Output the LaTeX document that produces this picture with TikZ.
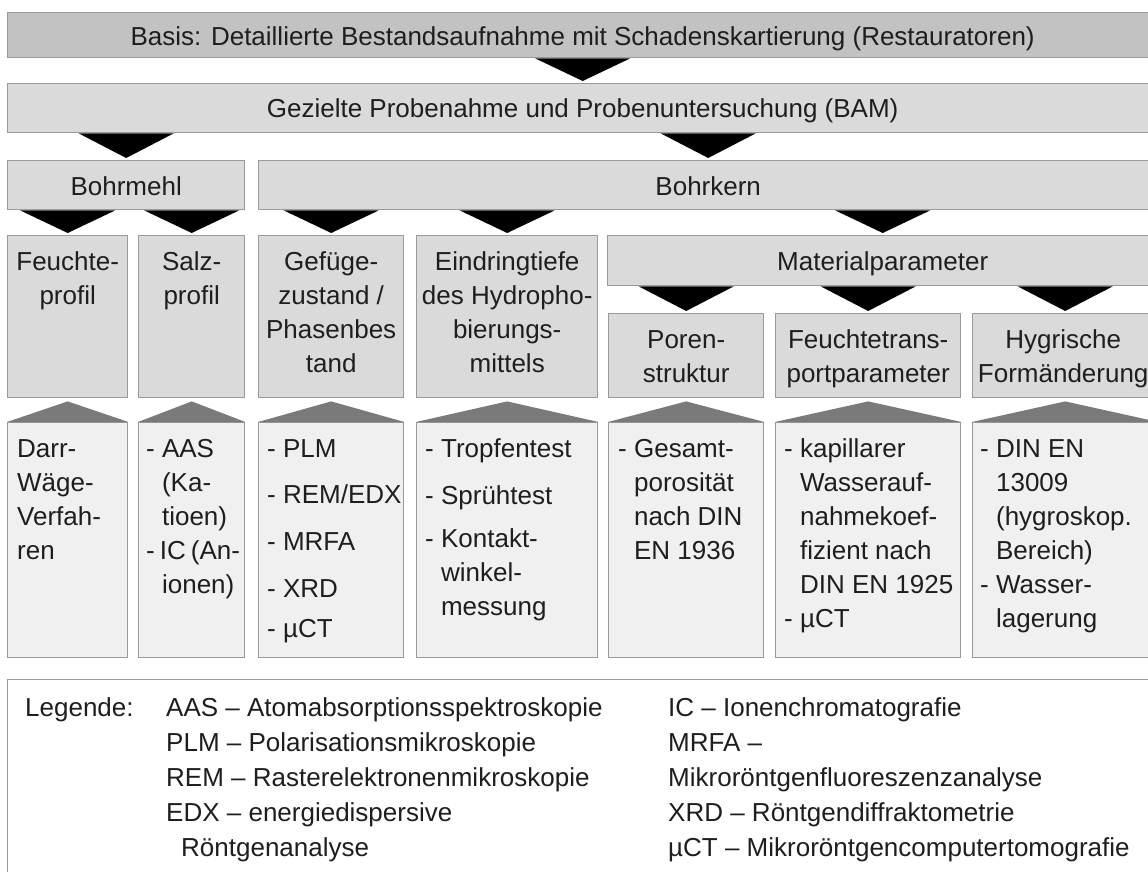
\documentclass[tikz,border=0pt]{standalone}
\usepackage{fontspec}
\setmainfont{Liberation Sans}
\usetikzlibrary{calc}
\definecolor{bdr}{HTML}{9A9A9A}
\definecolor{fillA}{HTML}{C2C2C2}
\definecolor{fillB}{HTML}{DADADA}
\definecolor{fillC}{HTML}{F0F0F0}
\definecolor{tri}{HTML}{7A7A7A}
\definecolor{txt}{HTML}{1E1E1E}
\newcommand\hgind{\hphantom{- }}
\newcommand\dtri[2]{\fill[black] ($(#2.north)+(0,-2)$) -- ($(#2.north |- #1.south)+(-47.5,0)$) -- ($(#2.north |- #1.south)+(47.5,0)$) -- cycle;}
\newcommand\utri[2]{\fill[tri] ($(#1.south)+(0,3)$) -- (#2.north west) -- (#2.north east) -- cycle;}
\begin{document}
\begin{tikzpicture}[x=1pt,y=-1pt,
  box/.style={draw=bdr, line width=1.4pt, inner sep=0pt, anchor=north west},
  lvA/.style={box, fill=fillA},
  lvB/.style={box, fill=fillB},
  lvC/.style={box, fill=fillC},
  legbox/.style={box, fill=white},
  lbl/.style={inner sep=0pt, text=txt, font=\fontsize{26}{34}\selectfont},
  ctxt/.style={lbl, align=center, anchor=north},
  ltxt/.style={lbl, align=left, anchor=north west},
  legtxt/.style={inner sep=0pt, text=txt, font=\fontsize{26}{35}\selectfont, align=left, anchor=north west}
]
\useasboundingbox (0,0) rectangle (1148,872);
\clip (0,0) rectangle (1148,872);
\fill[white] (0,0) rectangle (1148,872);

% level boxes
\node[lvA, minimum width=1150pt, minimum height=45pt] (basis) at (7,12) {};
\node[lvB, minimum width=1150pt, minimum height=49pt] (gez) at (7,83) {};
\node[lvB, minimum width=237pt, minimum height=49pt] (bmehl) at (7,160) {};
\node[lvB, minimum width=899pt, minimum height=49pt] (bkern) at (258,160) {};
\node[lvB, minimum width=120pt, minimum height=162pt] (feu) at (7,235) {};
\node[lvB, minimum width=106pt, minimum height=162pt] (salz) at (138,235) {};
\node[lvB, minimum width=145pt, minimum height=162pt] (gef) at (258,235) {};
\node[lvB, minimum width=181pt, minimum height=162pt] (ein) at (416,235) {};
\node[lvB, minimum width=550pt, minimum height=50pt] (mat) at (607,235) {};
\node[lvB, minimum width=155pt, minimum height=84pt] (por) at (608,313) {};
\node[lvB, minimum width=185pt, minimum height=84pt] (ftr) at (775,313) {};
\node[lvB, minimum width=185pt, minimum height=84pt] (hyg) at (972,313) {};

% lower boxes
\node[lvC, minimum width=120pt, minimum height=235pt] (darr) at (7,422) {};
\node[lvC, minimum width=106pt, minimum height=235pt] (aas) at (138,422) {};
\node[lvC, minimum width=145pt, minimum height=235pt] (plm) at (258,422) {};
\node[lvC, minimum width=181pt, minimum height=235pt] (trop) at (416,422) {};
\node[lvC, minimum width=155pt, minimum height=235pt] (ges) at (608,422) {};
\node[lvC, minimum width=185pt, minimum height=235pt] (kap) at (775,422) {};
\node[lvC, minimum width=185pt, minimum height=235pt] (din) at (972,422) {};

% legend box
\node[legbox, minimum width=1150pt, minimum height=250pt] (leg) at (7,679) {};

% down triangles
\dtri{basis}{gez}
\dtri{gez}{bmehl}
\dtri{gez}{bkern}
\dtri{bmehl}{feu}
\dtri{bmehl}{salz}
\dtri{bkern}{gef}
\dtri{bkern}{ein}
\dtri{bkern}{mat}
\dtri{mat}{por}
\dtri{mat}{ftr}
\dtri{mat}{hyg}

% up triangles
\utri{feu}{darr}
\utri{salz}{aas}
\utri{gef}{plm}
\utri{ein}{trop}
\utri{por}{ges}
\utri{ftr}{kap}
\utri{hyg}{din}

% single-line labels
\node[lbl, anchor=base] (tbasis) at (basis.north |- 0,46) {Basis: Detaillierte Bestandsaufnahme mit Schadenskartierung (Restauratoren)};
\node[lbl, anchor=base] (tgez) at (gez.north |- 0,118) {Gezielte Probenahme und Probenuntersuchung (BAM)};
\node[lbl, anchor=base] (tbmehl) at (bmehl.north |- 0,195) {Bohrmehl};
\node[lbl, anchor=base] (tbkern) at (bkern.north |- 0,195) {Bohrkern};
\node[lbl, anchor=base] (tmat) at (mat.north |- 0,270) {Materialparameter};

% multi-line upper labels
\node[ctxt] (tfeu) at ($(feu.north)+(0,11.2)$) {\strut Feuchte-\\profil};
\node[ctxt] (tsalz) at ($(salz.north)+(0,11.2)$) {\strut Salz-\\profil};
\node[ctxt] (tgef) at ($(gef.north)+(0,11.2)$) {\strut Gefüge-\\zustand /\\Phasenbes\\tand};
\node[ctxt] (tein) at ($(ein.north)+(0,11.2)$) {\strut Eindringtiefe\\des Hydropho-\\bierungs-\\mittels};
\node[ctxt] (tpor) at ($(por.north)+(0,11.2)$) {\strut Poren-\\struktur};
\node[ctxt] (tftr) at ($(ftr.north)+(0,11.2)$) {\strut Feuchtetrans-\\portparameter};
\node[ctxt] (thyg) at ($(hyg.north)+(-2,11.2)$) {\strut Hygrische\\Formänderung};

% lower labels
\node[ltxt] (tdarr) at ($(darr.north west)+(10,11.2)$) {\strut Darr-\\Wäge-\\Verfah-\\ren};
\node[ltxt] (taas) at ($(aas.north west)+(8,11.2)$) {\strut - AAS\\\hgind(Ka-\\\hgind tioen)\\-\hspace{5pt}IC\hspace{5pt}(An-\\\hgind ionen)};
\node[ltxt] (tplm) at ($(plm.north west)+(9,11.2)$) {\strut - PLM\\[12pt]- REM/EDX\\[13pt]- MRFA\\[13pt]- XRD\\[6pt]- µCT};
\node[ltxt] (ttrop) at ($(trop.north west)+(9,11.2)$) {\strut - Tropfentest\\[13pt]- Sprühtest\\[9pt]- Kontakt-\\\hgind winkel-\\\hgind messung};
\node[ltxt] (tges) at ($(ges.north west)+(10,11.2)$) {\strut - Gesamt-\\\hgind porosität\\\hgind nach DIN\\\hgind EN 1936};
\node[ltxt] (tkap) at ($(kap.north west)+(9,11.2)$) {\strut - kapillarer\\\hgind Wasserauf-\\\hgind nahmekoef-\\\hgind fizient nach\\\hgind DIN EN 1925\\- µCT};
\node[ltxt] (tdin) at ($(din.north west)+(8,11.2)$) {\strut - DIN EN\\\hgind 13009\\\hgind (hygroskop.\\\hgind Bereich)\\- Wasser-\\\hgind lagerung};

% legend
\node[legtxt] (tleg) at (25,691.5) {\strut Legende:};
\node[legtxt] (tleg2) at (166,691.5) {\strut AAS – Atomabsorptionsspektroskopie\\PLM – Polarisationsmikroskopie\\REM – Rasterelektronenmikroskopie\\EDX – energiedispersive\\\hspace*{15pt}Röntgenanalyse};
\node[legtxt] (tleg3) at (668,691.5) {\strut IC – Ionenchromatografie\\MRFA –\\Mikroröntgenfluoreszenzanalyse\\XRD – Röntgendiffraktometrie\\µCT – Mikroröntgencomputertomografie};
\end{tikzpicture}
\end{document}
